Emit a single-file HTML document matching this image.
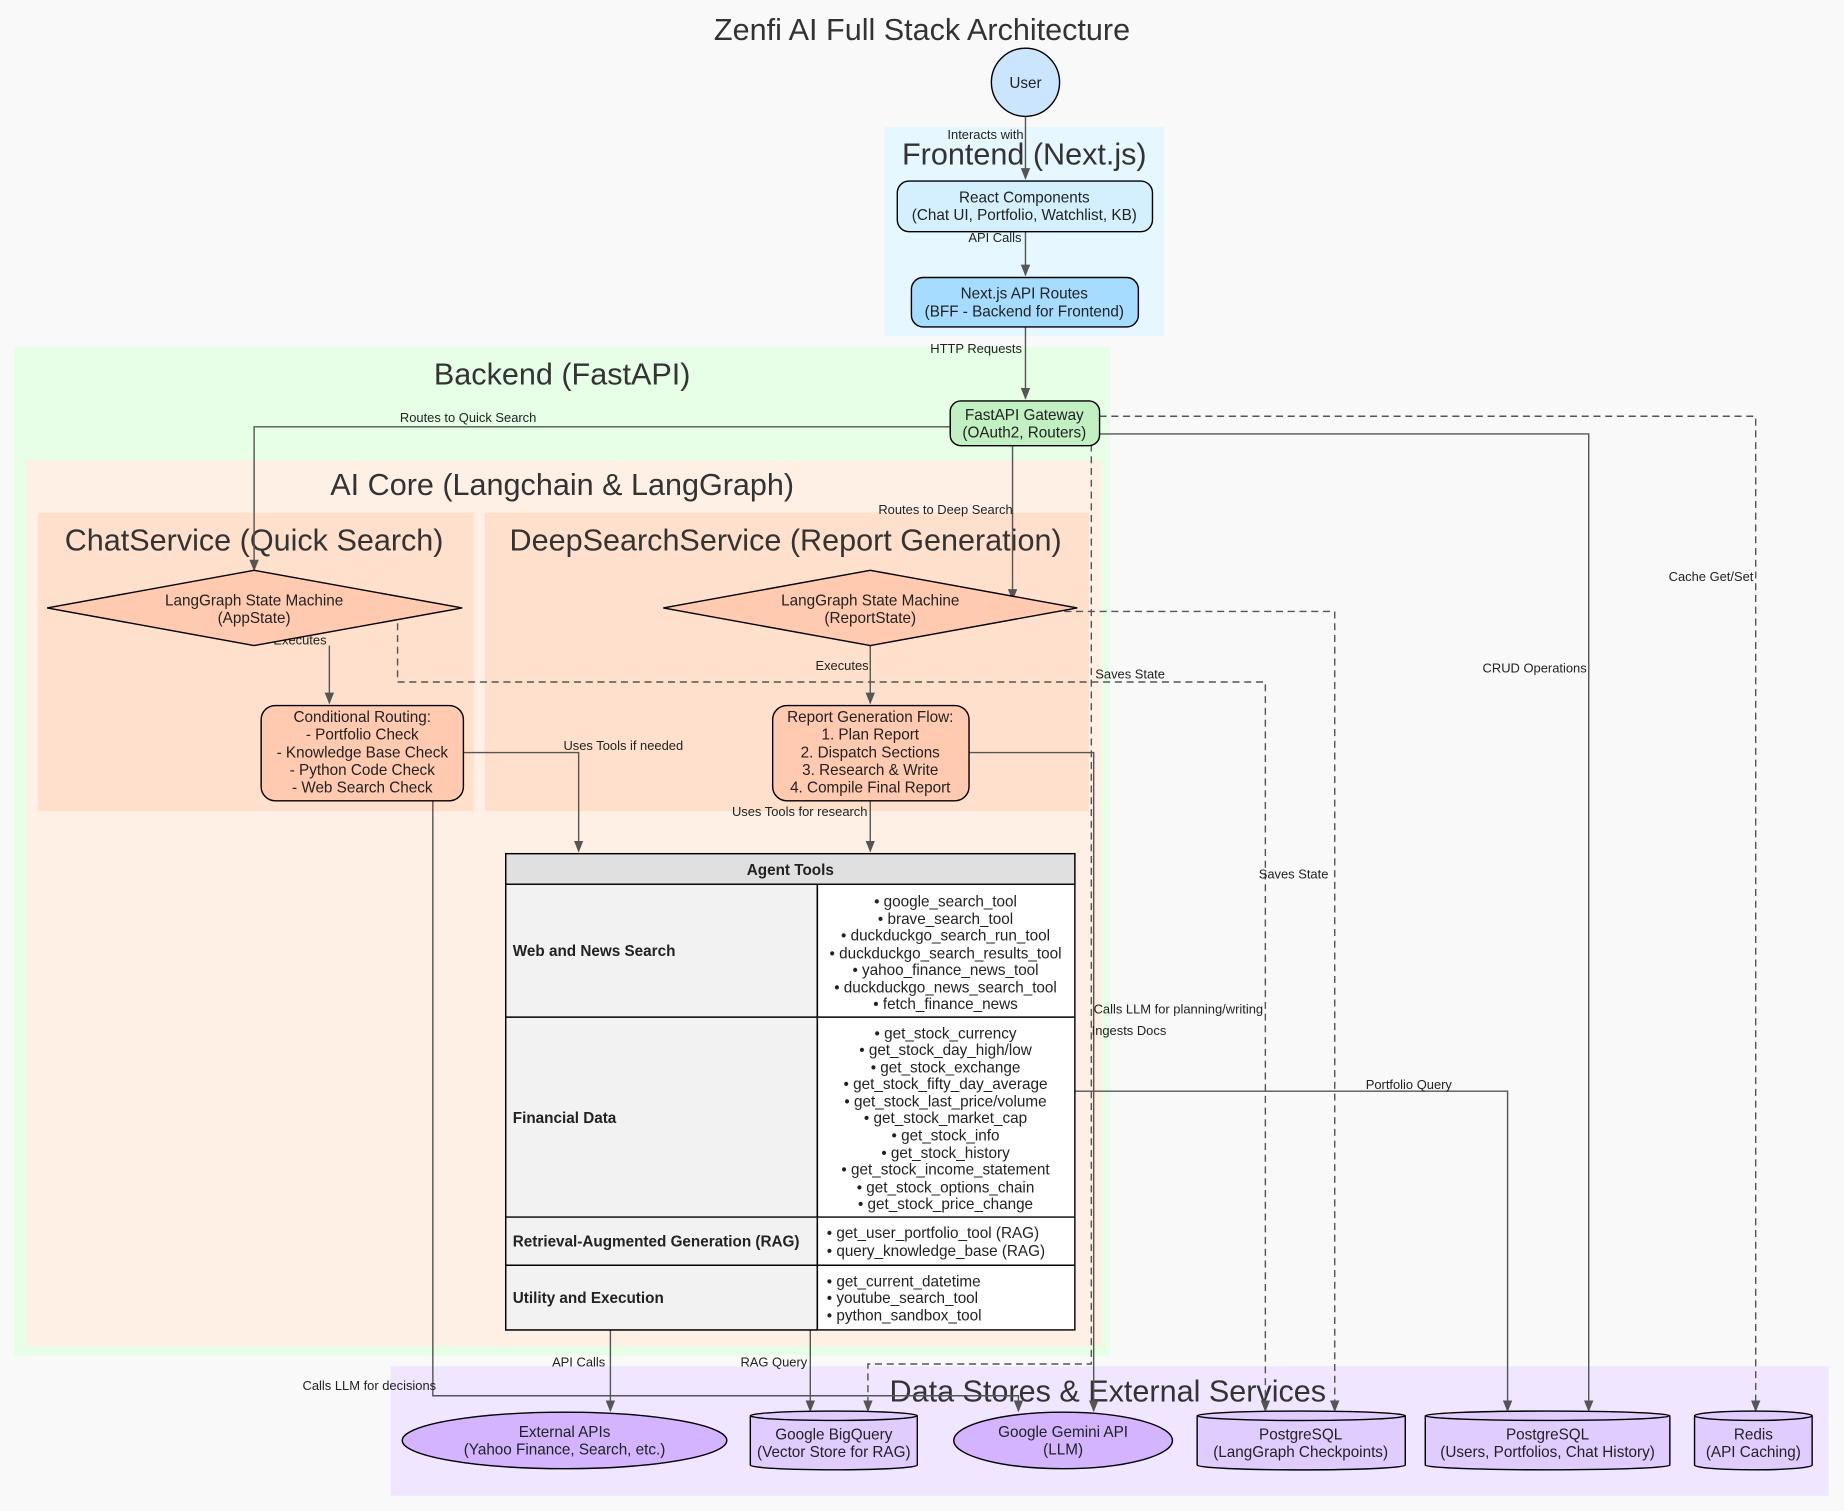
<!DOCTYPE html>
<html><head><meta charset="utf-8"><style>
html,body{margin:0;padding:0;background:#f9f9f9;}
svg{display:block;}
text{font-family:"Liberation Sans",Arial,sans-serif;fill:#222;}
.t{font-size:13px;text-anchor:middle;}
.l{font-size:11px;text-anchor:middle;}
.c{font-size:26px;text-anchor:middle;fill:#333;}
.e{stroke:#555;stroke-width:1.2;fill:none;}
.d{stroke:#555;stroke-width:1.2;fill:none;stroke-dasharray:6,4;}
.n{stroke:#000;stroke-width:1.2;}
.b{font-size:13px;font-weight:bold;}
</style></head><body>
<svg width="1844" height="1511" viewBox="0 0 1568 1285" xmlns="http://www.w3.org/2000/svg">
<defs><marker id="a" markerWidth="10" markerHeight="10" refX="9" refY="5" orient="auto" markerUnits="userSpaceOnUse"><path d="M0,1 L10,5 L0,9 Z" fill="#555"/></marker></defs>
<rect width="1568" height="1285" fill="#f9f9f9"/>
<text x="784" y="34" class="c">Zenfi AI Full Stack Architecture</text>
<!-- clusters -->
<rect x="752" y="108" width="238" height="178" fill="#e6f7ff"/>
<text x="871" y="140" class="c">Frontend (Next.js)</text>
<rect x="12" y="295" width="932" height="858" fill="#e6ffe6"/>
<text x="478" y="327" class="c">Backend (FastAPI)</text>
<rect x="22" y="391" width="915" height="754" fill="#fff0e6"/>
<text x="478" y="421" class="c">AI Core (Langchain &amp; LangGraph)</text>
<rect x="32" y="436" width="371" height="254" fill="#ffe0cc"/>
<text x="216" y="468" class="c">ChatService (Quick Search)</text>
<rect x="412" y="436" width="514" height="254" fill="#ffe0cc"/>
<text x="668" y="468" class="c">DeepSearchService (Report Generation)</text>
<rect x="332" y="1162" width="1223" height="110" fill="#f0e6ff"/>
<text x="942" y="1192" class="c">Data Stores &amp; External Services</text>
<!-- edges -->
<path class="e" marker-end="url(#a)" d="M872,99 V152"/>
<text x="838" y="118" class="l">Interacts with</text>
<path class="e" marker-end="url(#a)" d="M872,197 V234"/>
<text x="846" y="206" class="l">API Calls</text>
<path class="e" marker-end="url(#a)" d="M872,278 V339"/>
<text x="830" y="300" class="l">HTTP Requests</text>
<path class="e" marker-end="url(#a)" d="M808,363 H216 V485"/>
<text x="398" y="359" class="l">Routes to Quick Search</text>
<path class="e" marker-end="url(#a)" d="M861,379 V510"/>
<text x="804" y="437" class="l">Routes to Deep Search</text>
<path class="e" marker-end="url(#a)" d="M280,549 V598"/>
<text x="255" y="548" class="l">Executes</text>
<path class="e" marker-end="url(#a)" d="M740,549 V598"/>
<text x="716" y="570" class="l">Executes</text>
<path class="e" marker-end="url(#a)" d="M394,640 H492 V724"/>
<text x="530" y="638" class="l">Uses Tools if needed</text>
<path class="e" marker-end="url(#a)" d="M740,681 V724"/>
<text x="680" y="694" class="l">Uses Tools for research</text>
<path class="e" marker-end="url(#a)" d="M368,681 V1187 H866 V1200"/>
<text x="314" y="1182" class="l">Calls LLM for decisions</text>
<path class="e" marker-end="url(#a)" d="M824,640 H930 V1200"/>
<text x="1002" y="862" class="l">Calls LLM for planning/writing</text>
<path class="d" marker-end="url(#a)" d="M338,530 V580 H1076 V1200"/>
<text x="961" y="577" class="l">Saves State</text>
<path class="d" marker-end="url(#a)" d="M905,520 H1135 V1200"/>
<text x="1100" y="747" class="l">Saves State</text>
<path class="d" marker-end="url(#a)" d="M928,378 V1160 H738 V1200"/>
<text x="960" y="880" class="l">Ingests Docs</text>
<path class="e" marker-end="url(#a)" d="M935,369 H1351 V1200"/>
<text x="1305" y="572" class="l">CRUD Operations</text>
<path class="d" marker-end="url(#a)" d="M935,354 H1493 V1200"/>
<text x="1455" y="494" class="l">Cache Get/Set</text>
<path class="e" marker-end="url(#a)" d="M914,928 H1282 V1200"/>
<text x="1198" y="926" class="l">Portfolio Query</text>
<path class="e" marker-end="url(#a)" d="M519,1131 V1200"/>
<text x="492" y="1162" class="l">API Calls</text>
<path class="e" marker-end="url(#a)" d="M689,1131 V1200"/>
<text x="658" y="1162" class="l">RAG Query</text>
<!-- nodes -->
<circle cx="872" cy="70" r="29" fill="#cce5ff" class="n"/>
<text x="872" y="75" class="t" fill="#1a3c6e">User</text>
<rect x="763" y="154" width="217" height="43" rx="10" fill="#d4f0ff" class="n"/>
<text x="871" y="172" class="t">React Components</text><text x="871" y="187" class="t">(Chat UI, Portfolio, Watchlist, KB)</text>
<rect x="775" y="236" width="193" height="42" rx="10" fill="#a6dcff" class="n"/>
<text x="871" y="254" class="t">Next.js API Routes</text><text x="871" y="269" class="t">(BFF - Backend for Frontend)</text>
<rect x="808" y="341" width="127" height="38" rx="9" fill="#c2f0c2" class="n"/>
<text x="871" y="357" class="t">FastAPI Gateway</text><text x="871" y="372" class="t">(OAuth2, Routers)</text>
<polygon points="216,485 393,517 216,549 40,517" fill="#ffcab0" class="n"/>
<text x="216" y="515" class="t">LangGraph State Machine</text><text x="216" y="530" class="t">(AppState)</text>
<polygon points="740,485 916,517 740,549 564,517" fill="#ffcab0" class="n"/>
<text x="740" y="515" class="t">LangGraph State Machine</text><text x="740" y="530" class="t">(ReportState)</text>
<rect x="222" y="600" width="172" height="81" rx="12" fill="#ffcab0" class="n"/>
<g class="t"><text x="308" y="614" class="t">Conditional Routing:</text><text x="308" y="629" class="t">- Portfolio Check</text><text x="308" y="644" class="t">- Knowledge Base Check</text><text x="308" y="659" class="t">- Python Code Check</text><text x="308" y="674" class="t">- Web Search Check</text></g>
<rect x="657" y="600" width="167" height="81" rx="12" fill="#ffcab0" class="n"/>
<text x="740" y="614" class="t">Report Generation Flow:</text><text x="740" y="629" class="t">1. Plan Report</text><text x="740" y="644" class="t">2. Dispatch Sections</text><text x="740" y="659" class="t">3. Research &amp; Write</text><text x="740" y="674" class="t">4. Compile Final Report</text>
<!-- table -->
<rect x="430" y="726" width="484" height="405" fill="#fff" class="n"/>
<rect x="430" y="726" width="484" height="26" fill="#e0e0e0" class="n"/>
<text x="672" y="744" class="t" font-weight="bold">Agent Tools</text>
<rect x="430" y="752" width="265" height="379" fill="#f2f2f2" class="n"/>
<line x1="695" y1="752" x2="695" y2="1131" class="n"/>
<line x1="430" y1="865" x2="914" y2="865" class="n"/>
<line x1="430" y1="1035" x2="914" y2="1035" class="n"/>
<line x1="430" y1="1076" x2="914" y2="1076" class="n"/>
<text x="436" y="813" class="b">Web and News Search</text>
<text x="436" y="955" class="b">Financial Data</text>
<text x="436" y="1060" class="b">Retrieval-Augmented Generation (RAG)</text>
<text x="436" y="1108" class="b">Utility and Execution</text>
<g>
<text x="804" y="771" class="t">• google_search_tool</text>
<text x="804" y="786" class="t">• brave_search_tool</text>
<text x="804" y="800" class="t">• duckduckgo_search_run_tool</text>
<text x="804" y="815" class="t">• duckduckgo_search_results_tool</text>
<text x="804" y="829" class="t">• yahoo_finance_news_tool</text>
<text x="804" y="844" class="t">• duckduckgo_news_search_tool</text>
<text x="804" y="858" class="t">• fetch_finance_news</text>
<text x="804" y="883" class="t">• get_stock_currency</text>
<text x="804" y="897" class="t">• get_stock_day_high/low</text>
<text x="804" y="912" class="t">• get_stock_exchange</text>
<text x="804" y="926" class="t">• get_stock_fifty_day_average</text>
<text x="804" y="941" class="t">• get_stock_last_price/volume</text>
<text x="804" y="955" class="t">• get_stock_market_cap</text>
<text x="804" y="970" class="t">• get_stock_info</text>
<text x="804" y="985" class="t">• get_stock_history</text>
<text x="804" y="999" class="t">• get_stock_income_statement</text>
<text x="804" y="1014" class="t">• get_stock_options_chain</text>
<text x="804" y="1028" class="t">• get_stock_price_change</text>
<text x="703" y="1053" font-size="13">• get_user_portfolio_tool (RAG)</text>
<text x="703" y="1068" font-size="13">• query_knowledge_base (RAG)</text>
<text x="703" y="1094" font-size="13">• get_current_datetime</text>
<text x="703" y="1108" font-size="13">• youtube_search_tool</text>
<text x="703" y="1123" font-size="13">• python_sandbox_tool</text>
</g>
<!-- data stores -->
<ellipse cx="480" cy="1225" rx="138" ry="24" fill="#d4b3ff" class="n"/>
<text x="480" y="1222" class="t">External APIs</text><text x="480" y="1237" class="t">(Yahoo Finance, Search, etc.)</text>
<ellipse cx="904" cy="1225" rx="93" ry="24" fill="#d4b3ff" class="n"/>
<text x="904" y="1222" class="t">Google Gemini API</text><text x="904" y="1237" class="t">(LLM)</text>
<g fill="#e0ccff" class="n">
<path d="M638,1204 V1246 A71,4 0 0 0 780,1246 V1204 A71,4 0 0 0 638,1204 A71,4 0 0 0 780,1204"/>
<path d="M1018,1204 V1246 A88,4 0 0 0 1195,1246 V1204 A88,4 0 0 0 1018,1204 A88,4 0 0 0 1195,1204"/>
<path d="M1212,1204 V1246 A104,4 0 0 0 1420,1246 V1204 A104,4 0 0 0 1212,1204 A104,4 0 0 0 1420,1204"/>
<path d="M1441,1204 V1246 A50,4 0 0 0 1541,1246 V1204 A50,4 0 0 0 1441,1204 A50,4 0 0 0 1541,1204"/>
</g>
<text x="709" y="1224" class="t">Google BigQuery</text><text x="709" y="1239" class="t">(Vector Store for RAG)</text>
<text x="1106" y="1224" class="t">PostgreSQL</text><text x="1106" y="1239" class="t">(LangGraph Checkpoints)</text>
<text x="1316" y="1224" class="t">PostgreSQL</text><text x="1316" y="1239" class="t">(Users, Portfolios, Chat History)</text>
<text x="1491" y="1224" class="t">Redis</text><text x="1491" y="1239" class="t">(API Caching)</text>
</svg>
</body></html>
